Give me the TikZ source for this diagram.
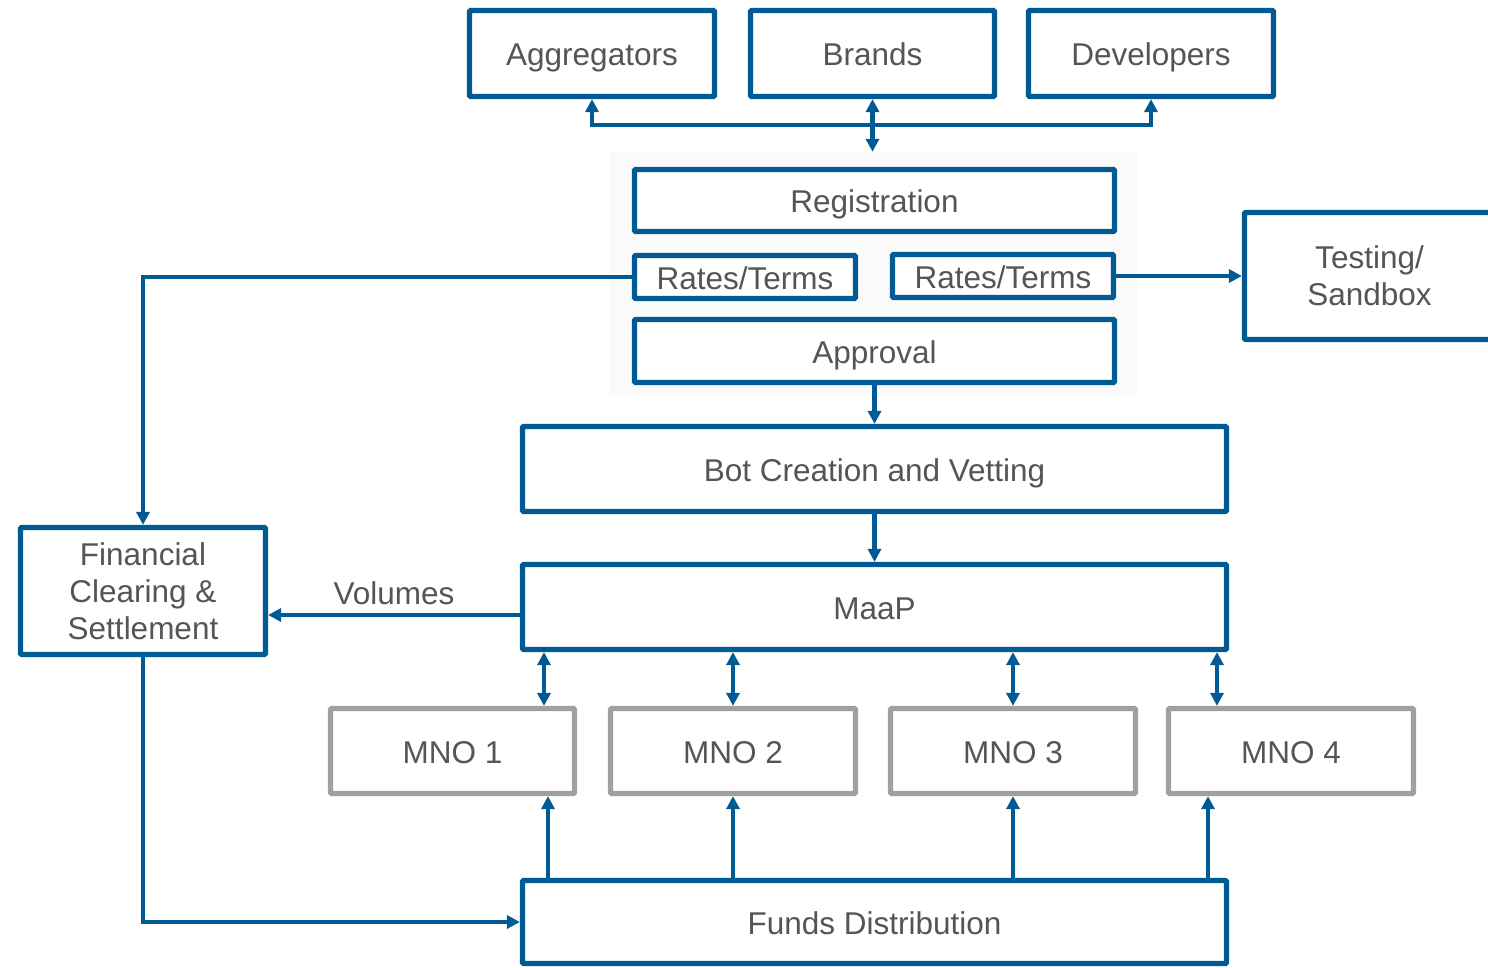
\documentclass[tikz,border=0pt]{standalone}
\usepackage{fontspec}
\setmainfont{Liberation Sans}
\usetikzlibrary{arrows.meta}
\definecolor{mblue}{RGB}{0,90,148}
\definecolor{mgray}{RGB}{160,160,160}
\definecolor{mtext}{RGB}{85,85,85}
\definecolor{panelbg}{RGB}{250,250,250}
\begin{document}
\begin{tikzpicture}[x=1pt,y=-1pt,
  bbox/.style={draw=mblue, line width=5.2pt, rectangle, rounded corners=1pt, inner sep=0pt, fill=white,
    text=mtext, font=\fontsize{31.5}{37}\selectfont, align=center},
  one/.style={text height=31pt, text depth=6pt},
  gbox/.style={bbox, draw=mgray},
  conn/.style={draw=mblue, line width=4.5pt},
  tip/.tip={Triangle[length=13pt,width=13pt]},
  oneway/.style={conn, -tip},
  twoway/.style={conn, tip-tip},
]
\clip (0,0) rectangle (1488,968);
\fill[white] (0,0) rectangle (1488,968);

% panel behind registration group
\node[fill=panelbg, minimum width=527pt, minimum height=244pt, inner sep=0pt] (panel) at (873.5,274) {};

% top boxes
\node[bbox, one, minimum width=245pt, minimum height=86pt] (agg) at (592,53.5) {Aggregators};
\node[bbox, one, minimum width=244pt, minimum height=86pt] (brands) at (872.5,53.5) {Brands};
\node[bbox, one, minimum width=245pt, minimum height=86pt] (dev) at (1151,53.5) {Developers};

% registration group
\node[bbox, one, minimum width=480pt, minimum height=62pt] (reg) at (874.5,200.5) {Registration};
\node[bbox, one, minimum width=221pt, minimum height=43pt] (ratesl) at (745,277) {Rates/Terms};
\node[bbox, one, minimum width=221pt, minimum height=43pt] (ratesr) at (1003,276) {Rates/Terms};
\node[bbox, one, minimum width=480pt, minimum height=63pt] (appr) at (874.5,351) {Approval};

\node[bbox, minimum width=250pt, minimum height=127pt] (test) at (1369.5,276) {Testing/\\Sandbox};

\node[bbox, one, minimum width=704pt, minimum height=85pt] (bot) at (874.5,469) {Bot Creation and Vetting};
\node[bbox, one, minimum width=704pt, minimum height=85pt] (maap) at (874.5,607) {MaaP};
\node[bbox, minimum width=245pt, minimum height=127pt] (fin) at (143,591) {Financial\\Clearing \&\\Settlement};

\node[gbox, one, minimum width=244pt, minimum height=85pt] (mno1) at (452.5,751) {MNO 1};
\node[gbox, one, minimum width=245pt, minimum height=85pt] (mno2) at (733,751) {MNO 2};
\node[gbox, one, minimum width=245pt, minimum height=85pt] (mno3) at (1013,751) {MNO 3};
\node[gbox, one, minimum width=245pt, minimum height=85pt] (mno4) at (1291,751) {MNO 4};

\node[bbox, one, minimum width=704pt, minimum height=83pt] (funds) at (874.5,922) {Funds Distribution};

% top bus
\draw[twoway] (agg.south) -- ++(0,26) -| (dev.south);
\draw[twoway] (brands.south) -- (brands.south |- panel.north);

% rates connectors
\draw[oneway] (ratesl.west) -| (fin.north);
\draw[oneway] (ratesr.east) -- (test.west);

% vertical chain
\draw[oneway] (appr.south) -- (bot.north);
\draw[oneway] (bot.south) -- (maap.north);

% volumes
\draw[oneway] ([yshift=-8pt]maap.west) -- ([yshift=-8pt]maap.west -| fin.east)
  node[midway, above=5pt, text=mtext, font=\fontsize{31.5}{37}\selectfont] (vol) {Volumes};

% MaaP <-> MNOs
\draw[twoway] ([xshift=91.5pt]mno1.north) -- ([xshift=91.5pt]mno1.north |- maap.south);
\draw[twoway] (mno2.north) -- (mno2.north |- maap.south);
\draw[twoway] (mno3.north) -- (mno3.north |- maap.south);
\draw[twoway] ([xshift=-74pt]mno4.north) -- ([xshift=-74pt]mno4.north |- maap.south);

% Funds -> MNOs
\draw[oneway] ([xshift=95.5pt]mno1.south |- funds.north) -- ([xshift=95.5pt]mno1.south);
\draw[oneway] (mno2.south |- funds.north) -- (mno2.south);
\draw[oneway] (mno3.south |- funds.north) -- (mno3.south);
\draw[oneway] ([xshift=-83pt]mno4.south |- funds.north) -- ([xshift=-83pt]mno4.south);

% financial -> funds
\draw[oneway] (fin.south) |- (funds.west);
\end{tikzpicture}
\end{document}
